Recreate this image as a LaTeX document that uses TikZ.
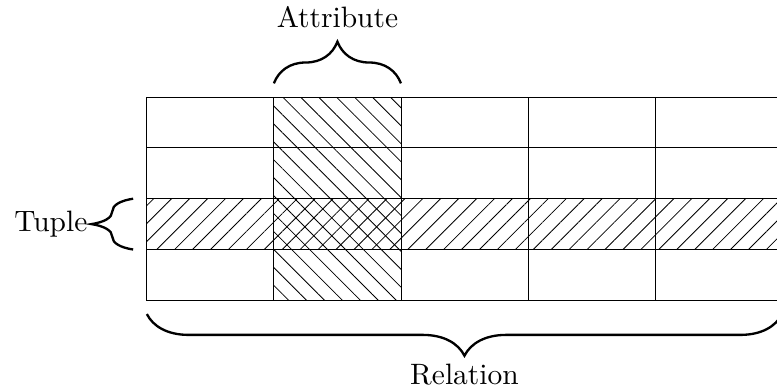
\documentclass[tikz,border=0pt]{standalone}
\usepackage{fontspec}
\usetikzlibrary{positioning,patterns.meta,decorations.pathreplacing}

\begin{document}
\begin{tikzpicture}[
    % Node styles
    cellbox/.style={
        rectangle,
        draw=black,
        line width=0.5pt,
        minimum width=2.5cm,
        minimum height=1cm,
        inner sep=0pt,
        outer sep=0pt
    },
    rowhatch/.style={
        pattern={Lines[angle=45,distance=7.1pt,line width=0.45pt]}
    },
    colhatch/.style={
        pattern={Lines[angle=-45,distance=7.1pt,line width=0.45pt]}
    },
    bracket/.style={
        decorate,
        decoration={brace, amplitude=0.82cm},
        line width=1.3pt
    },
    textlabel/.style={
        font=\normalsize,
        scale=1.65,
        inner sep=0pt
    }
]

\useasboundingbox (-2.89,-1.73) rectangle (12.40,5.91);

% ===== Relation cells =====

\foreach \r in {1,...,4} {
    \foreach \c in {1,...,5} {
        \node[cellbox] (cell-\r-\c) at ({(\c-0.5)*2.5}, {4.5-\r}) {};
    }
}

% ===== Hatched tuple and attribute =====

\fill[rowhatch] (cell-3-1.north west) rectangle (cell-3-5.south east);
\fill[colhatch] (cell-1-2.north west) rectangle (cell-4-2.south east);

% ===== Braces =====

\draw[bracket] ([yshift=0.27cm]cell-1-2.north west) -- ([yshift=0.27cm]cell-1-2.north east);
\draw[bracket] ([xshift=-0.27cm]cell-3-1.south west) -- ([xshift=-0.27cm]cell-3-1.north west);
\draw[bracket] ([yshift=-0.27cm]cell-4-5.south east) -- ([yshift=-0.27cm]cell-4-1.south west);

% ===== Labels =====

\node[textlabel, above=1.36cm of cell-1-2.north] (attr) {Attribute};
\node[textlabel, left=1.16cm of cell-3-1.west] (tuple) {Tuple};
\node[textlabel, below=1.25cm of cell-4-3.south] (rel) {Relation};

\end{tikzpicture}
\end{document}
